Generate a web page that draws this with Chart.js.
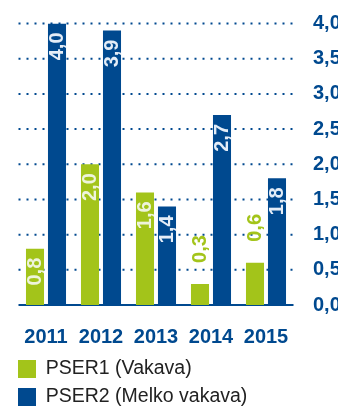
<!DOCTYPE html>
<html>
<head>
<meta charset="utf-8">
<script src="https://cdn.jsdelivr.net/npm/chart.js@4"></script>
<style>
  html, body { margin: 0; padding: 0; background: #fff; }
  #wrap { width: 338px; height: 409px; }
</style>
</head>
<body>
<div id="wrap"><canvas id="chart" width="338" height="409"></canvas></div>
<script>
const years = ['2011', '2012', '2013', '2014', '2015'];
const pser1 = [0.8, 2.0, 1.6, 0.3, 0.6];
const pser2 = [4.0, 3.9, 1.4, 2.7, 1.8];
const seriesNames = ['PSER1 (Vakava)', 'PSER2 (Melko vakava)'];

const blue = '#00498f';
const green = '#a3c41a';
const fontFamily = '"Liberation Sans", Arial, sans-serif';

const fmt = (v) => v.toFixed(1).replace('.', ',');

// dotted lines at every y tick, solid line at zero
const dottedGrid = {
  id: 'dottedGrid',
  beforeDatasetsDraw(chart) {
    const ctx = chart.ctx;
    const area = chart.chartArea;
    const y = chart.scales.y;
    y.ticks.forEach((t) => {
      const py = y.getPixelForValue(t.value);
      ctx.save();
      ctx.strokeStyle = blue;
      ctx.lineWidth = 2;
      ctx.setLineDash(t.value === 0 ? [] : [2, 6]);
      ctx.beginPath();
      ctx.moveTo(area.left, py);
      ctx.lineTo(area.right, py);
      ctx.stroke();
      ctx.restore();
    });
  }
};

// values written upright inside the bars, above the bar when it is too short
const valueLabels = {
  id: 'valueLabels',
  afterDatasetsDraw(chart) {
    const ctx = chart.ctx;
    chart.data.datasets.forEach((ds, di) => {
      chart.getDatasetMeta(di).data.forEach((bar, i) => {
        const text = fmt(ds.data[i]);
        const h = bar.base - bar.y;
        ctx.save();
        ctx.font = 'bold 20px ' + fontFamily;
        ctx.textBaseline = 'middle';
        ctx.translate(bar.x, bar.y);
        ctx.rotate(-Math.PI / 2);
        if (h > 45) {
          ctx.textAlign = 'right';
          ctx.fillStyle = di === 0 ? '#eef4dc' : '#e4edf7';
          ctx.fillText(text, -9, 0);
        } else {
          ctx.textAlign = 'left';
          ctx.fillStyle = ds.backgroundColor;
          ctx.fillText(text, 21, 0);
        }
        ctx.restore();
      });
    });
  }
};

const chart = new Chart(document.getElementById('chart'), {
  type: 'bar',
  data: {
    labels: years,
    datasets: [
      { label: seriesNames[0], data: pser1, backgroundColor: green, borderWidth: 0 },
      { label: seriesNames[1], data: pser2, backgroundColor: blue, borderWidth: 0 }
    ]
  },
  options: {
    responsive: false,
    animation: false,
    events: [],
    layout: { padding: { top: 18, left: 9.5, right: 0, bottom: 0 } },
    datasets: {
      bar: { categoryPercentage: 0.8, barPercentage: 0.82 }
    },
    scales: {
      x: {
        grid: { display: false },
        border: { display: false },
        ticks: {
          color: blue,
          padding: 12,
          font: { family: fontFamily, size: 20, weight: 'bold' }
        },
        afterFit(scale) { scale.height = 45.75; }
      },
      y: {
        position: 'right',
        min: 0,
        max: 4,
        grid: { display: false },
        border: { display: false },
        ticks: {
          stepSize: 0.5,
          color: blue,
          padding: 11.5,
          font: { family: fontFamily, size: 20, weight: 'bold' },
          callback: (v) => fmt(v)
        },
        afterFit(scale) { scale.width = 44.5; }
      },
      pad: {
        type: 'linear',
        position: 'left',
        grid: { display: false },
        border: { display: false },
        ticks: { display: false },
        afterFit(scale) { scale.width = 9; }
      }
    },
    plugins: {
      tooltip: { enabled: false },
      legend: {
        position: 'bottom',
        align: 'start',
        maxHeight: 58.25,
        labels: {
          boxWidth: 18,
          boxHeight: 18,
          padding: 8.5,
          color: '#222',
          font: { family: fontFamily, size: 19.5 }
        }
      }
    }
  },
  plugins: [dottedGrid, valueLabels]
});
</script>
</body>
</html>
